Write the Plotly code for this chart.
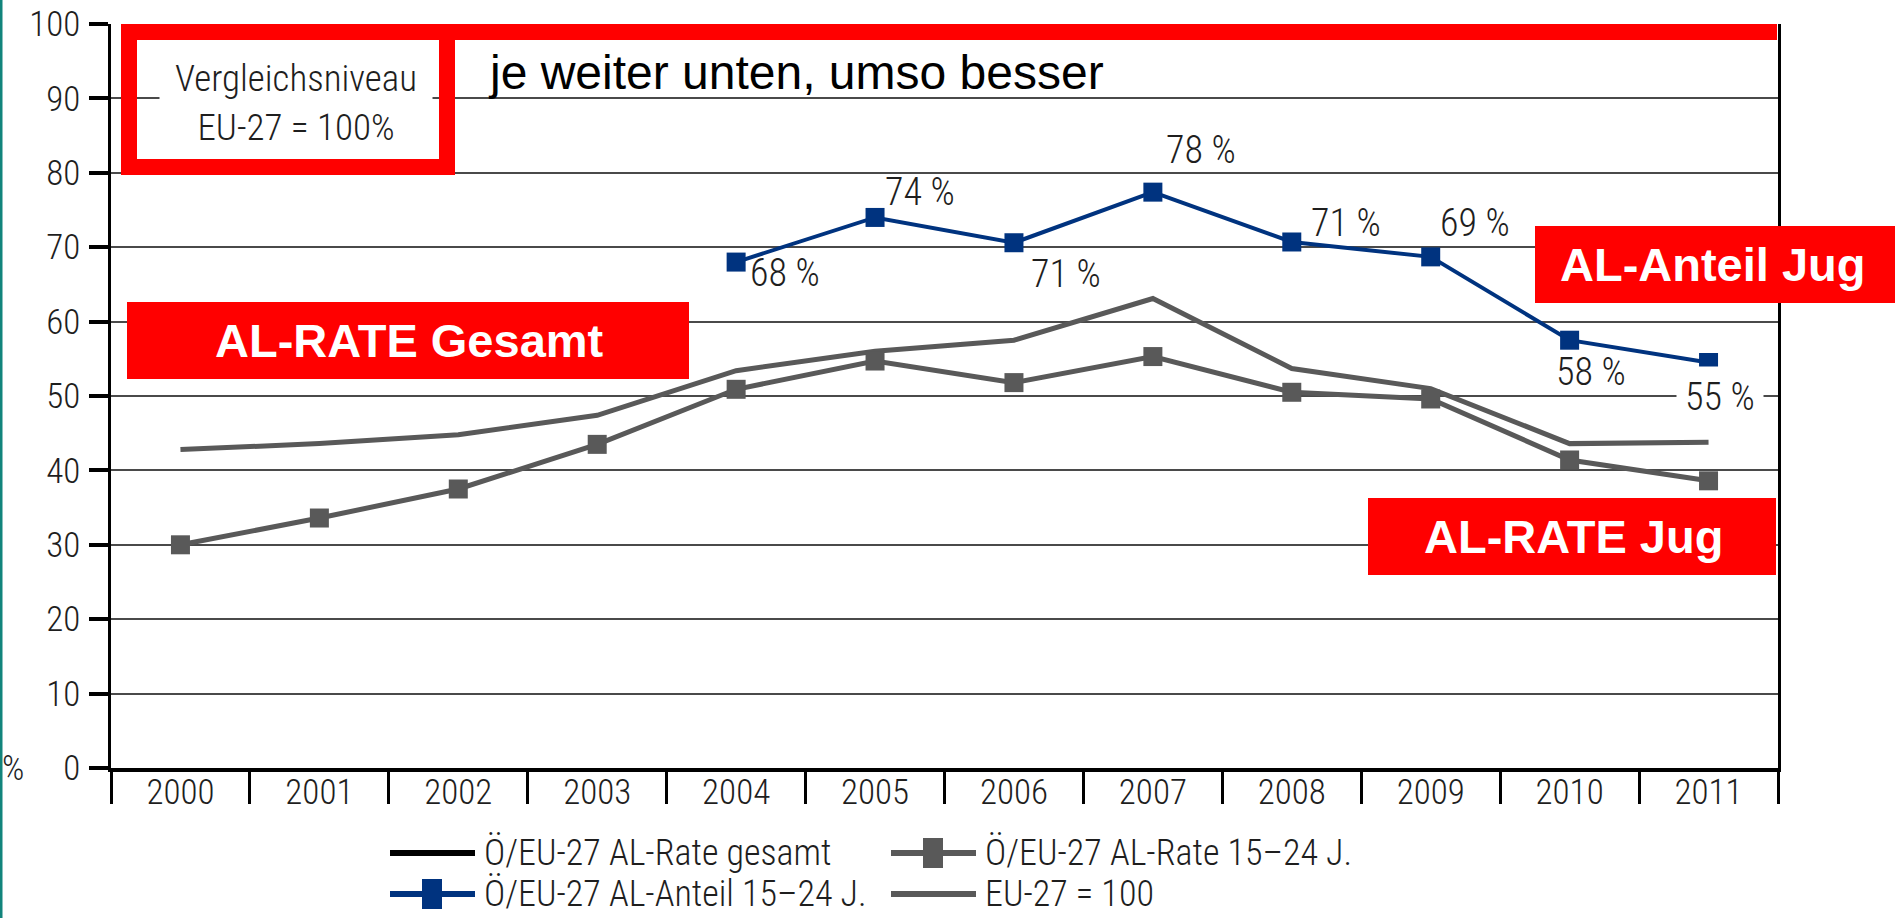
import plotly.graph_objects as go

# ---------------- data ----------------
years = ['2000', '2001', '2002', '2003', '2004', '2005', '2006', '2007', '2008', '2009', '2010', '2011']
rate_gesamt = [42.8, 43.6, 44.8, 47.4, 53.4, 56.0, 57.5, 63.1, 53.7, 51.0, 43.6, 43.8]
rate_jug = [30.0, 33.6, 37.5, 43.5, 50.9, 54.7, 51.8, 55.3, 50.5, 49.6, 41.4, 38.6]
anteil_years = ['2004', '2005', '2006', '2007', '2008', '2009', '2010', '2011']
anteil_jug = [68.0, 74.0, 70.6, 77.4, 70.7, 68.7, 57.5, 54.5]
anteil_labels = [68, 74, 71, 78, 71, 69, 58, 55]
eu_level = [100, 100, 100, 100, 100, 100, 100, 100, 100, 100, 100, 100]
y_ticks = [0, 10, 20, 30, 40, 50, 60, 70, 80, 90, 100]

legend_names = ['Ö/EU-27 AL-Rate gesamt', 'Ö/EU-27 AL-Rate 15–24 J.',
                'Ö/EU-27 AL-Anteil 15–24 J.', 'EU-27 = 100']

# ---------------- styling ----------------
W, H = 1895, 918
ML, MR, MT, MB = 111, 117, 24, 150
PW, PH = W - ML - MR, H - MT - MB

NARROW = 'Roboto Condensed, Liberation Sans Narrow, Liberation Sans, sans-serif'
SANS = 'Liberation Sans, Arial, sans-serif'
FS_TICK = 35
FS_LAB = 38
FS_LEG = 36
LIGHT = 300
RED = '#ff0000'
BLUE = '#00337f'
GRAY = '#595959'
TXT = '#1e1e1e'


def px(x):
    return (x - ML) / PW


def py(y):
    return (H - MB - y) / PH


def nfont(size):
    return dict(family=NARROW, size=size, color=TXT, weight=LIGHT)


fig = go.Figure()

# EU-27 = 100 reference line (hidden under the red bar, as in the original)
fig.add_trace(go.Scatter(x=years, y=eu_level, mode='lines', name=legend_names[3],
                         line=dict(color=GRAY, width=4), showlegend=False, cliponaxis=False))
fig.add_trace(go.Scatter(x=years, y=rate_gesamt, mode='lines', name=legend_names[0],
                         line=dict(color=GRAY, width=5), showlegend=False))
fig.add_trace(go.Scatter(x=years, y=rate_jug, mode='lines+markers', name=legend_names[1],
                         line=dict(color=GRAY, width=5),
                         marker=dict(symbol='square', size=19, color=GRAY), showlegend=False))
fig.add_trace(go.Scatter(x=anteil_years, y=anteil_jug, mode='lines+markers', name=legend_names[2],
                         line=dict(color=BLUE, width=4),
                         marker=dict(symbol='square', size=19, color=BLUE), showlegend=False))
# invisible trace to carry the boundary-tick axis
fig.add_trace(go.Scatter(x=[None], y=[None], xaxis='x2', showlegend=False, hoverinfo='skip'))

annotations = []
# value labels on the blue series (pixel offsets relative to each marker)
label_shift = [(12, -11), (8, 25), (15, -31), (11, 42), (17, 19), (7, 34), (-16, -32), (-25, -34)]
for yr, v, lab, (dx, dy) in zip(anteil_years, anteil_jug, anteil_labels, label_shift):
    last = (yr == anteil_years[-1])
    annotations.append(dict(
        x=years.index(yr), y=v, xref='x', yref='y', text=f'{lab} %', showarrow=False,
        xanchor='left', yanchor='middle', xshift=dx - (8 if last else 0), yshift=dy,
        font=nfont(FS_LAB),
        bgcolor='white' if last else 'rgba(0,0,0,0)', borderpad=8 if last else 1))

# "%" unit label at the bottom left
annotations.append(dict(x=px(13), y=0, xref='paper', yref='y', text='%', showarrow=False,
                        xanchor='center', yanchor='middle', font=nfont(FS_TICK)))

# comparison-level box text
annotations.append(dict(x=px(296), y=py(103), xref='paper', yref='paper',
                        text='Vergleichsniveau<br>EU-27 = 100%', showarrow=False,
                        xanchor='center', yanchor='middle', align='center',
                        width=262, height=84, bgcolor='white', borderpad=5,
                        font=nfont(37)))
annotations.append(dict(x=px(486), y=py(72), xref='paper', yref='paper',
                        text='je weiter unten, umso besser', showarrow=False,
                        xanchor='left', yanchor='middle',
                        font=dict(family=SANS, size=48, color='black')))

# red labelled boxes
boxes = [
    ('AL-RATE Gesamt', 127, 689, 302, 379),
    ('AL-Anteil Jug', 1535, 1895, 226, 303),
    ('AL-RATE Jug', 1368, 1776, 498, 575),
]
shapes = []
for text, x0, x1, y0, y1 in boxes:
    shapes.append(dict(type='rect', xref='paper', yref='paper', x0=px(x0), x1=px(x1),
                       y0=py(y1), y1=py(y0), fillcolor=RED, line=dict(width=0), layer='above'))
    cx = (x0 + min(x1, 1888)) / 2 + 1
    annotations.append(dict(x=px(cx), y=py((y0 + y1) / 2), xref='paper', yref='paper',
                            text=f'<b>{text}</b>', showarrow=False, xanchor='center', yanchor='middle',
                            font=dict(family=SANS, size=47, color='white')))

# red top bar and framed box
shapes.append(dict(type='rect', xref='paper', yref='paper', x0=px(121), x1=px(1777),
                   y0=py(40), y1=py(24), fillcolor=RED, line=dict(width=0), layer='above'))
shapes.append(dict(type='rect', xref='paper', yref='paper', x0=px(129), x1=px(447),
                   y0=py(167), y1=py(32), fillcolor='rgba(0,0,0,0)',
                   line=dict(color=RED, width=16), layer='above'))
# teal slide edge on the far left
shapes.append(dict(type='rect', xref='paper', yref='paper', x0=px(0), x1=px(2.5),
                   y0=py(H), y1=py(0), fillcolor='#12847c', line=dict(width=0), layer='above'))

# manual legend (long line samples as in the original)
legend_rows = [
    (853, 390, legend_names[0], 'black', 6, False),
    (853, 891, legend_names[1], GRAY, 6, True),
    (894, 390, legend_names[2], BLUE, 6, True),
    (894, 891, legend_names[3], GRAY, 6, False),
]
for yy, x0, name, col, lw, mk in legend_rows:
    shapes.append(dict(type='line', xref='paper', yref='paper', x0=px(x0), x1=px(x0 + 85),
                       y0=py(yy), y1=py(yy), line=dict(color=col, width=lw)))
    if mk:
        cx = x0 + 42
        shapes.append(dict(type='rect', xref='paper', yref='paper', x0=px(cx - 10), x1=px(cx + 10),
                           y0=py(yy + 15), y1=py(yy - 15), fillcolor=col, line=dict(width=0)))
    annotations.append(dict(x=px(x0 + 92), y=py(yy), xref='paper', yref='paper', text=name,
                            showarrow=False, xanchor='left', yanchor='middle', font=nfont(FS_LEG)))

fig.update_layout(
    width=W, height=H,
    margin=dict(l=ML, r=MR, t=MT, b=MB, autoexpand=False),
    paper_bgcolor='white', plot_bgcolor='white',
    showlegend=False,
    xaxis=dict(type='category', categoryorder='array', categoryarray=years,
               range=[-0.5, len(years) - 0.5], showgrid=False, zeroline=False,
               ticks='', showline=False, automargin=False,
               tickfont=nfont(FS_TICK)),
    xaxis2=dict(overlaying='x', anchor='y', side='bottom', type='linear',
                range=[-0.5, len(years) - 0.5], tickmode='linear', tick0=-0.5, dtick=1,
                ticks='outside', ticklen=32, tickwidth=3, tickcolor='black',
                showticklabels=False, showgrid=False, zeroline=False, automargin=False,
                showline=True, linecolor='black', linewidth=4),
    yaxis=dict(range=[0, 100], tickvals=y_ticks, ticks='outside', ticklen=19, tickwidth=4,
               tickcolor='black', showline=True, linecolor='black', linewidth=2.5, mirror=True,
               showgrid=True, gridcolor='#4a4a4a', gridwidth=1.5, zeroline=False,
               ticklabelstandoff=2, automargin=False,
               tickfont=nfont(FS_TICK)),
    shapes=shapes,
    annotations=annotations,
)

fig.write_html('out.html', config={'displayModeBar': False},
               post_script="document.body.style.margin='0px';document.body.style.overflow='hidden';")
